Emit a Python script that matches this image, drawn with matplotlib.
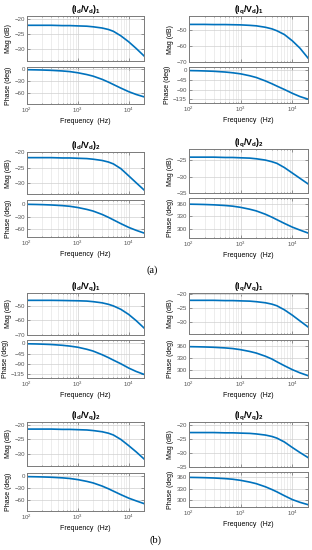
import matplotlib

matplotlib.use("Agg")
import matplotlib.pyplot as plt
from matplotlib.ticker import FixedLocator, LogLocator, NullFormatter

plt.rcParams["font.family"] = ["Liberation Sans", "DejaVu Sans"]
plt.rcParams["mathtext.fontset"] = "custom"
plt.rcParams["mathtext.rm"] = "Liberation Sans"
plt.rcParams["mathtext.it"] = "Liberation Sans:italic"
plt.rcParams["mathtext.bf"] = "Liberation Sans:bold"

W, H = 312, 550
LINE = "#0072BD"

# ---------------------------------------------------------------------------
# Data (frequency in Hz, magnitude in dB, phase in deg)
# ---------------------------------------------------------------------------
freq = [100, 150, 200, 300, 500, 700, 1000, 1500, 2000, 3000, 4000, 5000,
        7000, 10000, 14000, 20000]

titles = [
    r"$\mathbf{(I_d/V_d)_1}$", r"$\mathbf{(I_q/V_d)_1}$",
    r"$\mathbf{(I_d/V_d)_2}$", r"$\mathbf{(I_q/V_d)_2}$",
    r"$\mathbf{(I_d/V_q)_1}$", r"$\mathbf{(I_q/V_q)_1}$",
    r"$\mathbf{(I_d/V_q)_2}$", r"$\mathbf{(I_q/V_q)_2}$",
]

mag_dd1 = [-22.1, -22.1, -22.1, -22.1, -22.2, -22.2, -22.3, -22.4, -22.6,
           -23.0, -23.5, -24.1, -25.6, -27.6, -29.8, -32.3]
mag_qd1 = [-46.3, -46.3, -46.3, -46.4, -46.4, -46.5, -46.6, -46.9, -47.2,
           -48.1, -49.1, -50.3, -52.7, -56.7, -61.3, -67.5]
mag_dd2 = [-21.8, -21.8, -21.8, -21.8, -21.9, -21.9, -22.0, -22.1, -22.3,
           -22.7, -23.2, -23.8, -25.3, -27.6, -29.8, -32.1]
mag_qd2 = [-24.0, -24.0, -24.0, -24.0, -24.1, -24.1, -24.2, -24.3, -24.5,
           -24.9, -25.4, -25.9, -27.2, -28.9, -30.5, -32.2]
mag_dq1 = [-46.4, -46.4, -46.4, -46.4, -46.5, -46.6, -46.7, -46.9, -47.3,
           -48.1, -49.1, -50.2, -52.5, -56.0, -60.2, -65.2]
mag_qq1 = [-22.2, -22.2, -22.2, -22.2, -22.3, -22.3, -22.4, -22.5, -22.7,
           -23.1, -23.6, -24.2, -25.7, -27.7, -29.8, -32.0]
mag_dq2 = [-21.5, -21.5, -21.5, -21.5, -21.6, -21.6, -21.7, -21.8, -22.0,
           -22.4, -22.9, -23.5, -25.0, -27.1, -29.2, -31.6]
mag_qq2 = [-22.6, -22.6, -22.6, -22.6, -22.7, -22.7, -22.8, -22.9, -23.1,
           -23.5, -24.0, -24.6, -26.0, -28.0, -29.8, -31.6]

ph_dd1 = [-0.8, -1.2, -1.6, -2.4, -4.0, -5.6, -8.5, -13, -17, -25, -32, -38,
          -47, -56, -63, -69]
ph_qd1 = [-1.7, -2.5, -3.4, -5.0, -8.5, -12, -17, -26, -34, -50, -63, -74,
          -90, -108, -123, -135]
ph_dd2 = [-0.8, -1.2, -1.6, -2.4, -4.0, -5.6, -8.5, -13, -17, -25, -32, -38,
          -47, -56, -63, -69.5]
ph_qd2 = [359.2, 358.8, 358.4, 357.6, 356.0, 354.4, 351.5, 347, 343, 335,
          328, 322, 313, 304, 297, 290]
ph_dq1 = [-1.7, -2.5, -3.4, -5.0, -8.5, -12, -17, -26, -34, -50, -63, -74,
          -90, -109, -124, -137]
ph_qq1 = [359.2, 358.8, 358.4, 357.6, 356.0, 354.4, 351.5, 347, 343, 335,
          328, 321, 311, 301, 293, 286]
ph_dq2 = [-0.8, -1.2, -1.6, -2.4, -4.0, -5.6, -8.5, -13, -17, -25, -32, -38,
          -47, -56, -63, -70]
ph_qq2 = [359.2, 358.8, 358.4, 357.6, 356.0, 354.4, 351.5, 347, 343, 335,
          328, 322, 312, 302, 295, 289]

mags = [mag_dd1, mag_qd1, mag_dd2, mag_qd2, mag_dq1, mag_qq1, mag_dq2, mag_qq2]
phases = [ph_dd1, ph_qd1, ph_dd2, ph_qd2, ph_dq1, ph_qq1, ph_dq2, ph_qq2]

mag_ticks = [[-20, -25, -30], [-50, -60, -70], [-20, -25, -30], [-25, -30, -35],
             [-50, -60, -70], [-20, -25, -30, -35], [-20, -25, -30],
             [-20, -25, -30, -35]]
mag_lims = [(-34, -19), (-70, -41), (-33.4, -20), (-35, -21.5),
            (-70, -41.4), (-34.6, -19.5), (-34, -19.1), (-35, -18.8)]
ph_ticks = [[0, -30, -60], [0, -45, -90, -135], [0, -30, -60], [300, 330, 360],
            [0, -45, -90, -135], [300, 330, 360], [0, -30, -60], [300, 330, 360]]
ph_lims = [(-87, 6), (-153, 15), (-79, 9.5), (278, 374),
           (-153, 15), (280, 376), (-89, 8.5), (283, 373)]

# pixel boxes: (left, top, right, bottom) for magnitude and phase axes
mag_boxes = [(27, 16, 144, 61), (189, 16, 308, 62),
             (27, 152, 144, 194), (189, 149, 308, 193),
             (27, 293, 144, 335), (189, 293, 308, 334),
             (27, 422, 144, 466), (189, 422, 308, 467)]
ph_boxes = [(27, 67, 144, 104), (189, 67, 308, 103),
            (27, 200, 144, 237), (189, 198, 308, 238),
            (27, 340, 144, 378), (189, 340, 308, 378),
            (27, 473, 144, 511), (189, 472, 308, 507)]


def _axes(fig, box):
    left, top, right, bottom = box
    return fig.add_axes([left / W, 1 - bottom / H, (right - left) / W,
                         (bottom - top) / H])


def _style(ax, ticks, lims):
    ax.set_xscale("log")
    ax.set_xlim(100, 20000)
    ax.set_ylim(*lims)
    ax.yaxis.set_major_locator(FixedLocator(ticks))
    ax.xaxis.set_major_locator(FixedLocator([1e2, 1e3, 1e4]))
    ax.xaxis.set_minor_locator(LogLocator(base=10, subs=range(2, 10), numticks=20))
    ax.xaxis.set_minor_formatter(NullFormatter())
    ax.grid(True, which="major", color="#d0d0d0", linewidth=0.5)
    ax.grid(True, which="minor", axis="x", color="#e0e0e0", linewidth=0.4)
    ax.set_axisbelow(True)
    ax.tick_params(which="both", direction="in", top=True, right=True,
                   width=0.4, colors="#555555", labelsize=4.4, pad=1.5)
    ax.tick_params(which="major", length=2)
    ax.tick_params(which="minor", length=1)
    for sp in ax.spines.values():
        sp.set_color("#7a7a7a")
        sp.set_linewidth(0.7)


fig = plt.figure(figsize=(W / 100, H / 100), dpi=100)

for i in range(8):
    ax_m = _axes(fig, mag_boxes[i])
    ax_m.plot(freq, mags[i], color=LINE, linewidth=1.2)
    _style(ax_m, mag_ticks[i], mag_lims[i])
    ax_m.tick_params(axis="x", labelbottom=False)
    ax_m.set_ylabel("Mag (dB)", fontsize=5, labelpad=1.5)

    ax_p = _axes(fig, ph_boxes[i])
    ax_p.plot(freq, phases[i], color=LINE, linewidth=1.2)
    _style(ax_p, ph_ticks[i], ph_lims[i])
    ax_p.set_xticklabels([r"$10^2$", r"$10^3$", r"$10^4$"])
    ax_p.set_ylabel("Phase (deg)", fontsize=5, labelpad=1.5)
    ax_p.set_xlabel("Frequency  (Hz)", fontsize=5, labelpad=2)

    left, top, right, _ = mag_boxes[i]
    fig.text((left + right) / 2 / W, 1 - (top - 6) / H, titles[i],
             ha="center", va="center", fontsize=6.3)

fig.text(152 / W, 1 - 270 / H, "(a)", ha="center", va="center",
         fontsize=7.5, family="Liberation Serif")
fig.text(155 / W, 1 - 540 / H, "(b)", ha="center", va="center",
         fontsize=7.5, family="Liberation Serif")

fig.savefig("out.png", dpi=100)
